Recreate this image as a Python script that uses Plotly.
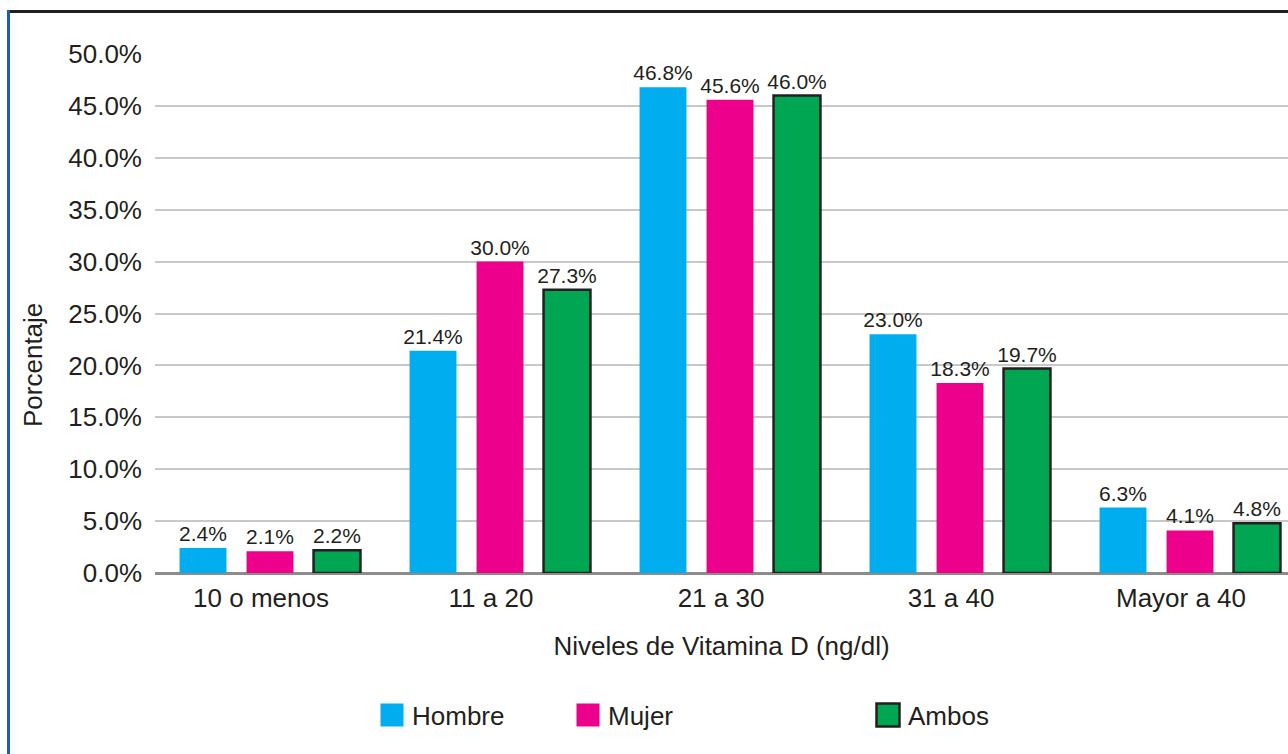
import plotly.graph_objects as go

categories = ["10 o menos", "11 a 20", "21 a 30", "31 a 40", "Mayor a 40"]
hombre = [2.4, 21.4, 46.8, 23.0, 6.3]
mujer = [2.1, 30.0, 45.6, 18.3, 4.1]
ambos = [2.2, 27.3, 46.0, 19.7, 4.8]
series_names = ["Hombre", "Mujer", "Ambos"]
y_ticks = [0, 5, 10, 15, 20, 25, 30, 35, 40, 45, 50]
y_tick_text = [f"{v:.1f}%" for v in y_ticks]

colors = ["#00AEEF", "#EC008C", "#00A651"]
TXT = "#231F20"
FONT = "Liberation Sans, Arial, Helvetica, sans-serif"
NARROW = "Liberation Sans Narrow, Arial Narrow, Liberation Sans, Arial, sans-serif"

fig = go.Figure()
for i, (name, vals) in enumerate(zip(series_names, [hombre, mujer, ambos])):
    fig.add_trace(go.Bar(
        x=categories, y=vals, name=name,
        marker=dict(color=colors[i],
                    line=dict(color=TXT if name == "Ambos" else colors[i],
                              width=2.5 if name == "Ambos" else 0)),
        texttemplate="%{y:.1f}%", textposition="outside",
        textfont=dict(family=NARROW, size=21, color=TXT),
        constraintext="none",
        cliponaxis=False,
        showlegend=True,
        legend=["legend", "legend2", "legend3"][i],
    ))

W, H = 1288, 754
L, R, T, B = 155, 0, 54, 181
pw, ph = W - L - R, H - T - B
CAT_PX = 230.0  # pixel width of one category

def px_x(p):
    return (p - L) / pw

def px_y(p):
    return (H - B - p) / ph

leg_common = dict(orientation="h", yanchor="middle", xanchor="left",
                  font=dict(family=FONT, size=26, color=TXT),
                  bgcolor="rgba(0,0,0,0)", borderwidth=0)

fig.update_layout(
    width=W, height=H,
    margin=dict(l=L, r=R, t=T, b=B, pad=0),
    paper_bgcolor="white", plot_bgcolor="white",
    showlegend=True,
    barmode="group", bargap=0.126, bargroupgap=0.30,
    font=dict(family=FONT, size=26, color=TXT),
    xaxis=dict(title=dict(text="Niveles de Vitamina D (ng/dl)",
                          font=dict(size=26, color=TXT), standoff=24),
               tickfont=dict(size=26, color=TXT), showgrid=False,
               showline=False, ticks="", ticklabelstandoff=7, ticklabelshift=-9,
               range=[-0.5, -0.5 + pw / CAT_PX]),
    yaxis=dict(range=[0, 50], tickmode="array", tickvals=y_ticks, ticktext=y_tick_text,
               tickfont=dict(size=26, color=TXT), showgrid=True,
               gridcolor="#C8C8C8", gridwidth=1.5, zeroline=True,
               zerolinecolor="#8C8C8C", zerolinewidth=2.5, showline=False,
               ticks="", ticklabelstandoff=12),
    annotations=[
        dict(text="Porcentaje", xref="paper", yref="paper",
             x=px_x(33), y=px_y(365), xanchor="center", yanchor="middle",
             textangle=-90, showarrow=False,
             font=dict(family=FONT, size=26, color=TXT)),
    ],
    legend=dict(x=px_x(372), y=px_y(715), **leg_common),
    legend2=dict(x=px_x(568), y=px_y(715), **leg_common),
    legend3=dict(x=px_x(868), y=px_y(715), **leg_common),
    shapes=[
        dict(type="line", xref="paper", yref="paper",
             x0=px_x(8), x1=px_x(1290), y0=px_y(11.5), y1=px_y(11.5),
             line=dict(color="#231F20", width=3)),
        dict(type="line", xref="paper", yref="paper",
             x0=px_x(8.5), x1=px_x(8.5), y0=px_y(10), y1=px_y(760),
             line=dict(color="#1B5DB5", width=3)),
    ],
)

post = """
var gd = document.getElementById('{plot_id}');
function fixLegend(){
  gd.querySelectorAll('.legendpoints path').forEach(function(p){
    p.setAttribute('d','M11.5,11.5H-11.5V-11.5H11.5Z');
  });
}
fixLegend();
gd.on('plotly_afterplot', fixLegend);
"""

fig.write_html("out.html", post_script=post)
